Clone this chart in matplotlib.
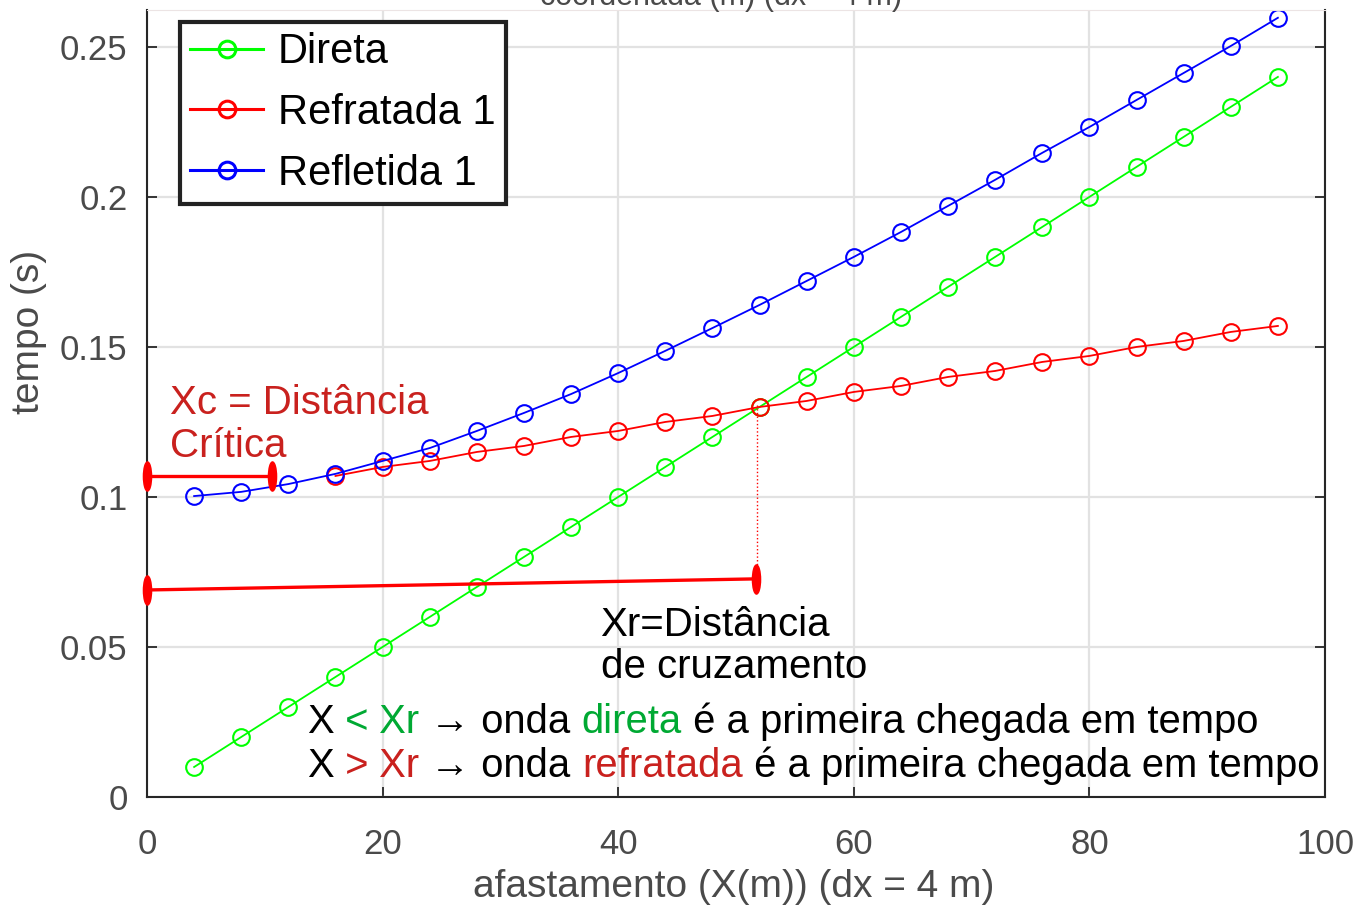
import matplotlib
matplotlib.use('Agg')
import matplotlib.pyplot as plt
from matplotlib.path import Path
import numpy as np

plt.rcParams['font.family'] = ['Liberation Sans', 'DejaVu Sans']

# offsets (m)
x_dir = [4, 8, 12, 16, 20, 24, 28, 32, 36, 40, 44, 48,
         52, 56, 60, 64, 68, 72, 76, 80, 84, 88, 92, 96]
t_dir = [0.010, 0.020, 0.030, 0.040, 0.050, 0.060, 0.070, 0.080,
         0.090, 0.100, 0.110, 0.120, 0.130, 0.140, 0.150, 0.160,
         0.170, 0.180, 0.190, 0.200, 0.210, 0.220, 0.230, 0.240]

x_ref = [16, 20, 24, 28, 32, 36, 40, 44, 48, 52, 56,
         60, 64, 68, 72, 76, 80, 84, 88, 92, 96]
t_ref = [0.107, 0.110, 0.112, 0.115, 0.117, 0.120, 0.122, 0.125,
         0.127, 0.130, 0.132, 0.135, 0.137, 0.140, 0.142, 0.145,
         0.147, 0.150, 0.152, 0.155, 0.157]

x_rfl = x_dir
t_rfl = [0.1003, 0.1017, 0.1043, 0.1077, 0.1120, 0.1163, 0.1220, 0.1280,
         0.1343, 0.1413, 0.1487, 0.1563, 0.1640, 0.1720, 0.1800, 0.1883,
         0.1970, 0.2057, 0.2147, 0.2233, 0.2323, 0.2413, 0.2503, 0.2597]

# annotation segments
xc_seg_x = [0, 10.6]
xc_seg_t = [0.107, 0.107]
xr_seg_x = [0, 51.7]
xr_seg_t = [0.069, 0.0727]
xr_drop_x = [51.8, 51.8]
xr_drop_t = [0.1307, 0.0727]

GREEN = '#00ff00'
RED = '#ff0000'
BLUE = '#0000ff'
TXT_GREEN = '#00a933'
TXT_RED = '#c9211e'
GREY = '#4a4a4a'

fig = plt.figure(figsize=(13.56, 9.09), dpi=100)
ax = fig.add_axes([147/1356, 1 - 797/909, (1325-147)/1356, (797-10)/909])

mk = dict(marker='o', markersize=12, markerfacecolor='none', markeredgewidth=1.5, lw=1.3)
ax.plot(x_dir, t_dir, color=GREEN, label='Direta', **mk)
ax.plot(x_ref, t_ref, color=RED, label='Refratada 1', **mk)
ax.plot(x_rfl, t_rfl, color=BLUE, label='Refletida 1', **mk)

ax.set_xlim(0, 100)
ax.set_ylim(0, 0.2623)
ax.set_xticks([0, 20, 40, 60, 80, 100])
ax.set_yticks([0, 0.05, 0.1, 0.15, 0.2, 0.25])
ax.set_yticklabels(['0', '0.05', '0.1', '0.15', '0.2', '0.25'])
ax.grid(True, color='#e2e2e2', lw=1.6)
ax.set_axisbelow(True)
ax.tick_params(direction='in', length=7, width=1.3, right=True,
               labelsize=25, colors='#262626', labelcolor=GREY)
ax.tick_params(axis='x', pad=22)
ax.tick_params(axis='y', pad=14)
for s in ['left', 'bottom', 'right']:
    ax.spines[s].set_color('#262626')
    ax.spines[s].set_linewidth(1.5)
ax.spines['top'].set_color('#ece4e4')

ax.set_xlabel('afastamento (X(m)) (dx = 4 m)', fontsize=28, color=GREY)
ax.set_ylabel('tempo (s)', fontsize=28, color=GREY)
ax.xaxis.set_label_coords(0.498, -0.092)
ax.yaxis.set_label_coords(-0.085, 0.591)

# title sits mostly above the visible area, as in the source image
fig.text(721/1356, 1 - 5/909, 'coordenada (m) (dx = 4 m)', fontsize=22,
         color=GREY, ha='center', va='baseline')

leg = ax.legend(loc='upper left', bbox_to_anchor=(0.028, 0.985), borderaxespad=0,
                fontsize=30, numpoints=1, handlelength=1.75, handletextpad=0.35,
                labelspacing=0.5, borderpad=0.25, fancybox=False, framealpha=1)
leg.get_frame().set_edgecolor('#222222')
leg.get_frame().set_linewidth(3)
for h in leg.get_lines():
    h.set_linewidth(2.2)
    h.set_markeredgewidth(2.2)

# elliptical end caps
ell = Path.unit_circle()
ell = Path(ell.vertices * [0.28, 1.0], ell.codes)
seg = dict(color=RED, lw=2.4, marker=ell, markersize=21, clip_on=False, zorder=5)
ax.plot(xc_seg_x, xc_seg_t, **seg)
ax.plot(xr_seg_x, xr_seg_t, **seg)
ax.plot(xr_drop_x, xr_drop_t, color=RED, lw=1.0, ls=':', zorder=4)

FS = 29
ax.text(1.95, 0.1277, 'Xc = Distância', fontsize=FS, color=TXT_RED, va='baseline')
ax.text(1.95, 0.1133, 'Crítica', fontsize=FS, color=TXT_RED, va='baseline')
ax.text(38.5, 0.0537, 'Xr=Distância', fontsize=FS, color='black', va='baseline')
ax.text(38.5, 0.0397, 'de cruzamento', fontsize=FS, color='black', va='baseline')


def colored_line(x, y, parts):
    t = ax.text(x, y, parts[0][0], color=parts[0][1], fontsize=28.8, va='baseline')
    for s, c in parts[1:]:
        t = ax.annotate(s, xy=(1, 0), xycoords=t, va='bottom', color=c, fontsize=28.8)


colored_line(13.6, 0.0213, [('X', 'black'), (' <', TXT_GREEN), (' Xr', TXT_GREEN),
                            (' → onda ', 'black'), ('direta', TXT_GREEN),
                            (' é a primeira chegada em tempo', 'black')])
colored_line(13.6, 0.0067, [('X', 'black'), (' >', TXT_RED), (' Xr', TXT_RED),
                            (' → onda ', 'black'), ('refratada', TXT_RED),
                            (' é a primeira chegada em tempo', 'black')])

fig.savefig('out.png', dpi=100)
